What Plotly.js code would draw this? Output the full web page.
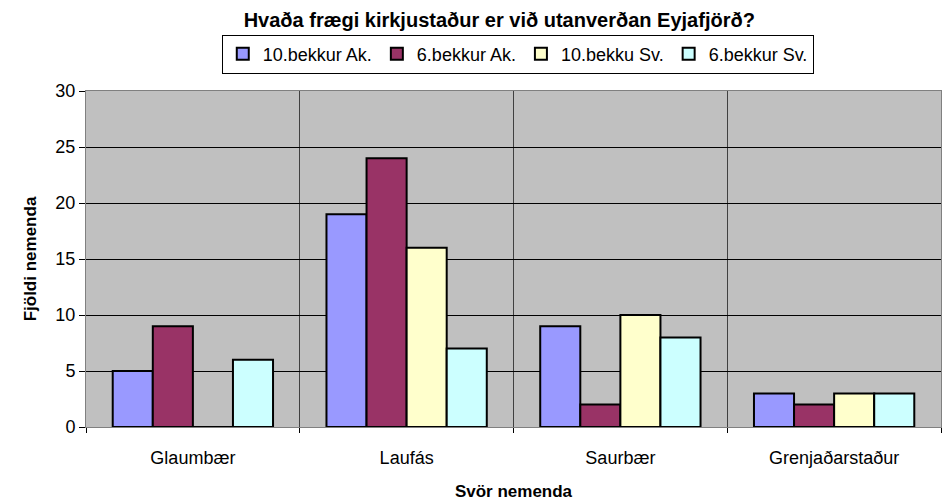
<!DOCTYPE html>
<html><head><meta charset="utf-8">
<script src="https://cdn.plot.ly/plotly-3.0.1.min.js"></script>
<style>body{margin:0;background:#fff}#c{width:951px;height:504px}</style>
</head><body><div id="c"></div>
<script>
const categories = ["Glaumbær", "Laufás", "Saurbær", "Grenjaðarstaður"];
const seriesNames = ["10.bekkur Ak.", "6.bekkur Ak.", "10.bekku Sv.", "6.bekkur Sv."];
const s10Ak = [5, 19, 9, 3];
const s6Ak = [9, 24, 2, 2];
const s10Sv = [0, 16, 10, 3];
const s6Sv = [6, 7, 8, 3];
const yTicks = [0, 5, 10, 15, 20, 25, 30];
const colors = ["#9999FF", "#993366", "#FFFFCC", "#CCFFFF"];
const values = [s10Ak, s6Ak, s10Sv, s6Sv];

const font = "Liberation Sans, Arial, sans-serif";
const data = values.map((v, i) => ({
  type: "bar", name: seriesNames[i], x: categories, y: v,
  marker: {color: colors[i], line: {color: "#000", width: 2}}
}));
const layout = {
  width: 951, height: 504,
  margin: {l: 86, r: 10, t: 91, b: 77},
  paper_bgcolor: "#fff", plot_bgcolor: "#C0C0C0",
  font: {family: font, size: 17, color: "#000"},
  bargap: 0.25, bargroupgap: 0, barmode: "group",
  title: {text: "<b>Hvaða frægi kirkjustaður er við utanverðan Eyjafjörð?</b>",
          font: {size: 20}, x: 0.525, xanchor: "center", y: 0.96, yanchor: "middle"},
  showlegend: true,
  legend: {orientation: "h", x: 0.505, xanchor: "center", y: 1.168, yanchor: "top",
           bordercolor: "#000", borderwidth: 1, font: {size: 18}, itemwidth: 30,
           tracegroupgap: 0, traceorder: "normal"},
  xaxis: {type: "category", tickson: "boundaries", showgrid: true, gridcolor: "#404040", gridwidth: 1,
          ticks: "outside", ticklen: 5, tickcolor: "#000", showline: true, linecolor: "#808080",
          mirror: true, tickfont: {size: 18}, ticklabelstandoff: 14,
          title: {text: "<b>Svör nemenda</b>", font: {size: 17}, standoff: 18}},
  yaxis: {range: [0, 30], tickvals: yTicks, showgrid: true, gridcolor: "#000", gridwidth: 1,
          ticks: "outside", ticklen: 6, tickcolor: "#000", showline: true, linecolor: "#808080",
          mirror: true, zeroline: false, tickfont: {size: 18},
          title: {text: "<b>Fjöldi nemenda</b>", font: {size: 17}, standoff: 14}}
};
Plotly.newPlot("c", data, layout, {displayModeBar: false});
</script></body></html>
